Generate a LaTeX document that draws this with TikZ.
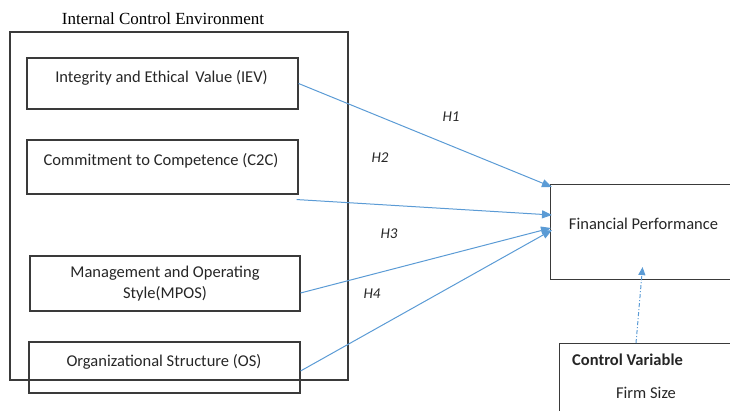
\documentclass[tikz,border=0pt]{standalone}
\usepackage{fontspec}
\setmainfont{Liberation Serif}
\newfontfamily\carl{Carlito}
\usetikzlibrary{arrows.meta}
\definecolor{boxgray}{HTML}{3A3A3A}
\definecolor{arrblue}{HTML}{5B9BD5}
\tikzset{
  boxnode/.style={draw=boxgray, line width=1.1pt, inner sep=0pt, fill=none},
  boxtext/.style={font=\carl\fontsize{16.5}{19}\selectfont, inner sep=0pt, align=center, text=black!85},
  hlabel/.style={font=\carl\itshape\fontsize{15}{18}\selectfont, inner sep=0pt, text=black!85},
  hyparrow/.style={draw=arrblue, line width=1pt, -{Triangle[length=10pt,width=8pt]}},
}
\begin{document}
\begin{tikzpicture}[x=1pt,y=-1pt]
\useasboundingbox (0,0) rectangle (730,411);
\clip (0,0) rectangle (730,411);
% title
\node[font=\fontsize{17}{20}\selectfont, inner sep=0pt] (title) at (163,19) {Internal Control Environment};
% outer environment box
\node[boxnode, minimum width=338pt, minimum height=348pt] (env) at (179,206) {};
% inner boxes
\node[boxnode, fill=white, minimum width=271pt, minimum height=51pt] (iev) at (162.5,83.5) {};
\node[boxnode, fill=white, minimum width=271pt, minimum height=54pt] (c2c) at (162.5,167) {};
\node[boxnode, fill=white, minimum width=270pt, minimum height=55pt] (mpos) at (165,283.5) {};
\node[boxnode, fill=none, minimum width=271pt, minimum height=51pt] (os) at (164.5,367.5) {};
\node[boxtext] (ievt) at (161.5,78) {Integrity and Ethical\, Value (IEV)};
\node[boxtext] (c2ct) at (161,161) {Commitment to Competence (C2C)};
\node[boxtext] (mpost) at (165,284) {Management and Operating\\[2pt]Style(MPOS)};
\node[boxtext] (ost) at (164,362) {Organizational Structure (OS)};
% financial performance
\node[boxnode, minimum width=190pt, minimum height=95pt, anchor=north west] (fp) at (550,184) {};
\node[boxtext] (fpt) at (643.5,224) {Financial Performance};
% control variable
\node[boxnode, minimum width=190pt, minimum height=90pt, anchor=north west] (cv) at (559,343) {};
\node[boxtext, font=\carl\bfseries\fontsize{16.5}{19}\selectfont, anchor=west] (cvt) at (572,360) {Control Variable};
\node[boxtext] (fs) at (646,393) {Firm Size};
% hypothesis arrows
\draw[hyparrow] (iev.east) -- ([xshift=2pt,yshift=-3pt]fp.north west);
\draw[hyparrow] ([xshift=-2pt,yshift=-5pt]c2c.south east) -- ([xshift=2pt,yshift=-31pt]fp.north west);
\draw[hyparrow] ([yshift=-9.5pt]mpos.east) -- ([xshift=1pt,yshift=-44pt]fp.north west);
\draw[hyparrow] ([xshift=0pt,yshift=-3.5pt]os.east) -- ([xshift=2pt,yshift=-46pt]fp.north west);
\node[hlabel] (h1) at (451,117) {H1};
\node[hlabel] (h2) at (380,158) {H2};
\node[hlabel] (h3) at (389,234) {H3};
\node[hlabel] (h4) at (372,294) {H4};
% control arrow
\draw[draw=arrblue, line width=1pt, dash pattern=on 4pt off 2pt on 1pt off 2pt, -{Triangle[length=8pt,width=7pt]}] ([xshift=77pt]cv.north west) -- ([xshift=-3pt,yshift=13pt]fp.south);
\end{tikzpicture}
\end{document}
